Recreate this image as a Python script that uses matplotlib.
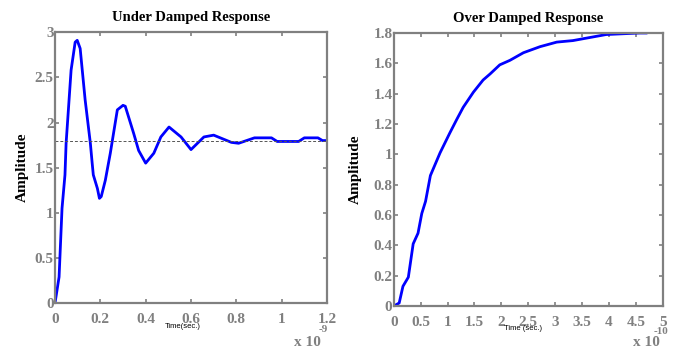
import matplotlib
matplotlib.use("Agg")
import matplotlib.pyplot as plt
from matplotlib.ticker import FuncFormatter

# under damped step response, time in units of 1e-9 s
t_under = [0, 0.018, 0.031, 0.044, 0.049, 0.071, 0.089, 0.098, 0.111, 0.133, 0.156,
           0.164, 0.169, 0.187, 0.196, 0.204, 0.222, 0.244, 0.275, 0.30, 0.31, 0.347,
           0.369, 0.40, 0.436, 0.467, 0.503, 0.556, 0.60, 0.657, 0.70, 0.778, 0.81,
           0.88, 0.955, 0.98, 1.075, 1.10, 1.16, 1.18, 1.2]
amp_under = [0, 0.29, 1.05, 1.42, 1.77, 2.58, 2.89, 2.91, 2.82, 2.25, 1.77,
             1.55, 1.42, 1.27, 1.16, 1.18, 1.36, 1.66, 2.14, 2.19, 2.18, 1.88,
             1.69, 1.55, 1.66, 1.84, 1.95, 1.84, 1.70, 1.84, 1.86, 1.78, 1.77,
             1.83, 1.83, 1.79, 1.79, 1.83, 1.83, 1.80, 1.80]
final_under = 1.8

# over damped step response, time in units of 1e-10 s
t_over = [0, 0.1, 0.17, 0.27, 0.36, 0.45, 0.52, 0.59, 0.68, 0.86, 1.04, 1.17, 1.29,
          1.48, 1.66, 1.79, 1.97, 2.16, 2.41, 2.72, 3.03, 3.33, 3.64, 3.95, 4.57, 4.69]
amp_over = [0, 0.02, 0.13, 0.19, 0.41, 0.48, 0.61, 0.69, 0.86, 1.01, 1.14, 1.23, 1.31,
            1.41, 1.49, 1.53, 1.59, 1.62, 1.67, 1.71, 1.74, 1.75, 1.77, 1.79, 1.80, 1.80]
final_over = 1.8

grey = '#808080'
serif = 'Liberation Serif'

fig = plt.figure(figsize=(6.79, 3.5), dpi=100)
ax1 = fig.add_axes([0.081, 0.134, 0.4006, 0.774])
ax2 = fig.add_axes([0.580, 0.1257, 0.396, 0.78])

fmt = FuncFormatter(lambda v, p: '%g' % round(v, 3))


def style(ax):
    for s in ax.spines.values():
        s.set_color(grey)
        s.set_linewidth(1.6)
    ax.tick_params(direction='in', length=3, width=1.2, color=grey,
                   top=True, right=True, labelcolor=grey, labelsize=11)
    ax.tick_params(axis='x', pad=7)
    ax.tick_params(axis='y', pad=1)
    for lab in ax.get_xticklabels() + ax.get_yticklabels():
        lab.set_fontfamily(serif)
        lab.set_fontweight('bold')
    ax.xaxis.set_major_formatter(fmt)
    ax.yaxis.set_major_formatter(fmt)


ax1.plot(t_under, amp_under, color='#0000ff', lw=2)
ax1.axhline(final_under, color='#555555', lw=0.7, ls=(0, (3, 2)))
ax1.set_xlim(0, 1.2)
ax1.set_ylim(0, 3)
ax1.set_xticks([0, 0.2, 0.4, 0.6, 0.8, 1, 1.2])
ax1.set_yticks([0, 0.5, 1, 1.5, 2, 2.5, 3])
style(ax1)
ax1.set_title('Under Damped Response', fontfamily=serif, fontweight='bold',
              fontsize=10.5, pad=8)
ax1.set_ylabel('Amplitude', fontfamily=serif, fontweight='bold', fontsize=11, labelpad=4)

ax2.plot(t_over, amp_over, color='#0000ff', lw=2)
ax2.axhline(final_over, color='#555555', lw=0.7, ls=(0, (3, 2)))
ax2.set_xlim(0, 5)
ax2.set_ylim(0, 1.8)
ax2.set_xticks([0, 0.5, 1, 1.5, 2, 2.5, 3, 3.5, 4, 4.5, 5])
ax2.set_yticks([0, 0.2, 0.4, 0.6, 0.8, 1, 1.2, 1.4, 1.6, 1.8])
style(ax2)
ax2.set_title('Over Damped Response', fontfamily=serif, fontweight='bold',
              fontsize=10.5, pad=8)
ax2.set_ylabel('Amplitude', fontfamily=serif, fontweight='bold', fontsize=11, labelpad=8)

# small axis labels and exponent texts
fig.text(183 / 679, 1 - 327 / 350, 'Time(sec.)', fontfamily='Liberation Sans',
         fontsize=5.5, ha='center', va='center')
fig.text(523 / 679, 1 - 329 / 350, 'Time (sec.)', fontfamily='Liberation Sans',
         fontsize=5.5, ha='center', va='center')
fig.text(307 / 679, 1 - 342 / 350, 'x 10', fontfamily=serif, fontweight='bold',
         color=grey, fontsize=11, ha='center', va='center')
fig.text(323 / 679, 1 - 330 / 350, '-9', fontfamily=serif, fontweight='bold',
         color=grey, fontsize=8, ha='center', va='center')
fig.text(646 / 679, 1 - 343 / 350, 'x 10', fontfamily=serif, fontweight='bold',
         color=grey, fontsize=11, ha='center', va='center')
fig.text(661 / 679, 1 - 331 / 350, '-10', fontfamily=serif, fontweight='bold',
         color=grey, fontsize=8, ha='center', va='center')

fig.savefig('out.png', dpi=100)
